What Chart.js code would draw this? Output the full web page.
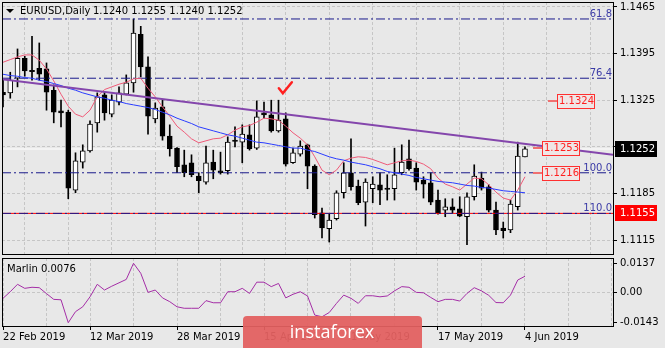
<!DOCTYPE html>
<html>
<head>
<meta charset="utf-8">
<script src="https://cdn.jsdelivr.net/npm/chart.js@4.4.1/dist/chart.umd.min.js"></script>
<style>
  html, body { margin: 0; padding: 0; background: #e8e8e8; }
  body { width: 665px; height: 348px; position: relative; overflow: hidden; }
  #main { position: absolute; left: 0; top: -12px; }
  #osc { position: absolute; left: 0; top: 246px; }
</style>
</head>
<body>
<canvas id="main" width="665" height="280"></canvas>
<canvas id="osc" width="665" height="102"></canvas>
<script>
// EURUSD daily, 22 Feb 2019 - 4 Jun 2019
const dateLabels = ['22 Feb 2019', '12 Mar 2019', '28 Mar 2019', '15 Apr 2019', '1 May 2019', '17 May 2019', '4 Jun 2019'];

const opens = [
  1.1337, 1.1336, 1.1358, 1.1388, 1.1370, 1.1373, 1.1372, 1.1340, 1.1309, 1.1307,
  1.1190, 1.1232, 1.1249, 1.1291, 1.1333, 1.1304, 1.1322, 1.1334, 1.1351, 1.1424,
  1.1375, 1.1297, 1.1315, 1.1271, 1.1253, 1.1228, 1.1231, 1.1211, 1.1202, 1.1232,
  1.1219, 1.1219, 1.1265, 1.1262, 1.1273, 1.1253, 1.1306, 1.1303, 1.1279, 1.1297,
  1.1231, 1.1244, 1.1258, 1.1226, 1.1156, 1.1132, 1.1147, 1.1186, 1.1216, 1.1196,
  1.1172, 1.1192, 1.1198, 1.1193, 1.1192, 1.1216, 1.1237, 1.1223, 1.1205, 1.1201,
  1.1175, 1.1160, 1.1165, 1.1162, 1.1150, 1.1180, 1.1208, 1.1195, 1.1160, 1.1133,
  1.1130, 1.1165, 1.1240
];
const highs = [
  1.1355, 1.1367, 1.1402, 1.1391, 1.1421, 1.1411, 1.1381, 1.1348, 1.1325, 1.1310,
  1.1246, 1.1258, 1.1294, 1.1336, 1.1337, 1.1333, 1.1345, 1.1363, 1.1447, 1.1436,
  1.1390, 1.1321, 1.1325, 1.1288, 1.1254, 1.1250, 1.1243, 1.1216, 1.1256, 1.1250,
  1.1247, 1.1270, 1.1285, 1.1288, 1.1288, 1.1324, 1.1322, 1.1325, 1.1325, 1.1306,
  1.1253, 1.1264, 1.1259, 1.1228, 1.1163, 1.1154, 1.1189, 1.1231, 1.1267, 1.1205,
  1.1207, 1.1210, 1.1216, 1.1213, 1.1253, 1.1258, 1.1265, 1.1231, 1.1210, 1.1216,
  1.1190, 1.1177, 1.1177, 1.1180, 1.1186, 1.1228, 1.1217, 1.1198, 1.1172, 1.1142,
  1.1175, 1.1262, 1.1255
];
const lows = [
  1.1315, 1.1328, 1.1345, 1.1361, 1.1355, 1.1355, 1.1310, 1.1291, 1.1285, 1.1177,
  1.1186, 1.1223, 1.1247, 1.1277, 1.1295, 1.1300, 1.1318, 1.1333, 1.1337, 1.1360,
  1.1274, 1.1291, 1.1265, 1.1241, 1.1216, 1.1210, 1.1210, 1.1186, 1.1199, 1.1207,
  1.1214, 1.1214, 1.1255, 1.1231, 1.1250, 1.1251, 1.1298, 1.1277, 1.1277, 1.1226,
  1.1230, 1.1241, 1.1192, 1.1148, 1.1118, 1.1112, 1.1145, 1.1178, 1.1190, 1.1168,
  1.1136, 1.1171, 1.1168, 1.1175, 1.1175, 1.1213, 1.1220, 1.1190, 1.1178, 1.1168,
  1.1154, 1.1150, 1.1156, 1.1150, 1.1108, 1.1175, 1.1190, 1.1157, 1.1123, 1.1118,
  1.1126, 1.1160, 1.1240
];
const closes = [
  1.1333, 1.1355, 1.1388, 1.1369, 1.1368, 1.1364, 1.1337, 1.1307, 1.1306, 1.1193,
  1.1234, 1.1249, 1.1289, 1.1330, 1.1306, 1.1325, 1.1336, 1.1351, 1.1426, 1.1375,
  1.1301, 1.1313, 1.1271, 1.1252, 1.1225, 1.1216, 1.1213, 1.1204, 1.1231, 1.1220,
  1.1216, 1.1262, 1.1263, 1.1274, 1.1252, 1.1300, 1.1303, 1.1279, 1.1295, 1.1229,
  1.1246, 1.1256, 1.1226, 1.1153, 1.1133, 1.1145, 1.1186, 1.1216, 1.1195, 1.1171,
  1.1202, 1.1199, 1.1190, 1.1191, 1.1213, 1.1232, 1.1222, 1.1202, 1.1199, 1.1172,
  1.1156, 1.1165, 1.1160, 1.1151, 1.1180, 1.1211, 1.1193, 1.1160, 1.1130, 1.1129,
  1.1169, 1.1241, 1.1252
];

// fast (red) and slow (blue) moving averages
const maFast = [
  1.1382, 1.1386, 1.1390, 1.1393, 1.1393, 1.1385, 1.1372, 1.1354, 1.1334, 1.1316,
  1.1304, 1.1300, 1.1310, 1.1330, 1.1341, 1.1345, 1.1349, 1.1352, 1.1357, 1.1358,
  1.1343, 1.1330, 1.1315, 1.1301, 1.1286, 1.1277, 1.1267, 1.1261, 1.1264, 1.1267,
  1.1268, 1.1273, 1.1280, 1.1285, 1.1287, 1.1292, 1.1298, 1.1297, 1.1295, 1.1286,
  1.1276, 1.1268, 1.1258, 1.1240, 1.1220, 1.1213, 1.1220, 1.1234, 1.1238, 1.1240,
  1.1239, 1.1236, 1.1232, 1.1228, 1.1231, 1.1234, 1.1235, 1.1233, 1.1229, 1.1222,
  1.1208, 1.1199, 1.1195, 1.1190, 1.1199, 1.1208, 1.1207, 1.1198, 1.1187, 1.1178,
  1.1175, 1.1190, 1.1210
];
const maSlow = [
  1.1364, 1.1362, 1.1361, 1.1359, 1.1358, 1.1355, 1.1353, 1.1350, 1.1347, 1.1343,
  1.1340, 1.1336, 1.1333, 1.1330, 1.1328, 1.1325, 1.1323, 1.1320, 1.1318, 1.1316,
  1.1314, 1.1311, 1.1307, 1.1303, 1.1298, 1.1294, 1.1290, 1.1285, 1.1282, 1.1279,
  1.1276, 1.1273, 1.1271, 1.1268, 1.1265, 1.1262, 1.1261, 1.1259, 1.1257, 1.1255,
  1.1253, 1.1253, 1.1250, 1.1248, 1.1244, 1.1240, 1.1237, 1.1235, 1.1232, 1.1230,
  1.1228, 1.1225, 1.1222, 1.1218, 1.1216, 1.1214, 1.1212, 1.1209, 1.1207, 1.1205,
  1.1203, 1.1202, 1.1201, 1.1199, 1.1197, 1.1196, 1.1194, 1.1193, 1.1191, 1.1189,
  1.1188, 1.1187, 1.1186
];

// Marlin oscillator
const marlin = [
  -0.0028, 0.0003, 0.0038, 0.0019, 0.0024, 0.0022, -0.0006, -0.0033, -0.0035, -0.0143,
  -0.0091, -0.0068, -0.0021, 0.0038, 0.0011, 0.0029, 0.0045, 0.0061, 0.0137, 0.0090,
  0.0000, 0.0011, -0.0026, -0.0044, -0.0068, -0.0075, -0.0075, -0.0075, -0.0039, -0.0049,
  -0.0049, 0.0003, 0.0003, 0.0019, -0.0005, 0.0048, 0.0048, 0.0027, 0.0042, -0.0026,
  -0.0009, 0.0003, -0.0017, -0.0107, -0.0115, -0.0095, -0.0052, -0.0013, -0.0028, -0.0052,
  -0.0016, -0.0016, -0.0021, -0.0017, 0.0007, 0.0027, 0.0024, 0.0000, -0.0002, -0.0024,
  -0.0044, -0.0033, -0.0033, -0.0041, -0.0005, 0.0022, 0.0007, -0.0014, -0.0048, -0.0049,
  -0.0013, 0.0058, 0.0076
];

const priceTicks = [1.1115, 1.1185, 1.1255, 1.1325, 1.1395, 1.1465];
const marlinTicks = [-0.0143, 0, 0.0137];

// Fibonacci levels, support line, target labels, trend line
const fibLevels = ['61.8', '76.4', '100.0', '110.0'];
const fibPrices = [1.1447, 1.1358, 1.1216, 1.1155];
const supportPrice = 1.1155;
const targetPrices = [1.1324, 1.1253, 1.1216];
const targetBars = [76.4, 74.3, 74.3];
const trendBars = [-0.41, 84.14];
const trendPrices = [1.1357, 1.1243];
const checkMark = { bar: 38.6, price: 1.1340 };

const N = closes.length;
const xMin = -0.14, xMax = 84.14;
const gridBars = [];
for (let i = 0; i <= 84; i += 6) gridBars.push(i);

const FONT = 'DejaVu Sans';
const GRID = '#c6c6c6';

function hLine(price, color, dash, width, order) {
  return {
    type: 'line',
    data: [{ x: xMin, y: price }, { x: xMax, y: price }],
    borderColor: color, borderWidth: width || 1, borderDash: dash || [],
    pointRadius: 0, order: order
  };
}

const series = arr => arr.map((v, i) => ({ x: i, y: v }));

const mainDatasets = [
  {
    type: 'bar', label: 'wick',
    data: highs.map((h, i) => ({ x: i, y: [lows[i], h] })),
    backgroundColor: '#000', barThickness: 1, grouped: false, order: 5
  },
  {
    type: 'bar', label: 'body',
    data: opens.map((o, i) => ({ x: i, y: [o, closes[i]] })),
    backgroundColor: closes.map((c, i) => c >= opens[i] ? '#ffffff' : '#000000'),
    borderColor: '#000', borderWidth: 1, borderSkipped: false,
    barThickness: 5, minBarLength: 1, grouped: false, order: 4
  },
  hLine(supportPrice, '#ff0000', [], 1, 3),
  ...fibPrices.map(p => hLine(p, '#1a1a8c', [9, 3, 2, 3], 1, 2)),
  {
    type: 'line', data: series(maSlow), borderColor: '#2a3cff', borderWidth: 1,
    pointRadius: 0, order: 1
  },
  {
    type: 'line', data: series(maFast), borderColor: '#ef5a78', borderWidth: 1,
    pointRadius: 0, order: 1
  },
  {
    type: 'line',
    data: trendBars.map((b, i) => ({ x: b, y: trendPrices[i] })),
    borderColor: '#8446ac', borderWidth: 2, pointRadius: 0, order: 0
  }
];

function drawFrame(ctx, a) {
  ctx.save();
  ctx.strokeStyle = '#000';
  ctx.lineWidth = 1;
  ctx.strokeRect(a.left + 0.5, a.top + 0.5, a.right - a.left, a.bottom - a.top);
  ctx.restore();
}

function axisBox(ctx, a, y, price, fill) {
  const py = Math.round(y.getPixelForValue(price));
  ctx.fillStyle = fill;
  ctx.fillRect(a.right + 2, py - 8, 42, 16);
  ctx.fillStyle = '#fff';
  ctx.textAlign = 'left';
  ctx.textBaseline = 'middle';
  ctx.fillText(price.toFixed(4), a.right + 7, py + 0.5);
}

const mainDecor = {
  id: 'mainDecor',
  beforeDatasetsDraw(chart) {
    // bid line at the last close
    const { ctx, chartArea: a, scales: { y } } = chart;
    const py = Math.round(y.getPixelForValue(closes[N - 1]));
    ctx.save();
    ctx.fillStyle = '#f3f3f3';
    ctx.fillRect(a.left, py - 1, a.right - a.left, 2);
    ctx.restore();
  },
  afterDatasetsDraw(chart) {
    const { ctx, chartArea: a, scales: { x, y } } = chart;
    ctx.save();
    ctx.font = '10px "' + FONT + '"';

    // fibo level captions
    ctx.fillStyle = '#3a3aa6';
    ctx.textAlign = 'right';
    ctx.textBaseline = 'alphabetic';
    fibPrices.forEach((p, i) => {
      ctx.fillText(fibLevels[i], a.right - 1, y.getPixelForValue(p) - 2);
    });

    // boxed target prices
    targetPrices.forEach((p, i) => {
      const py = Math.round(y.getPixelForValue(p));
      const bx = Math.round(x.getPixelForValue(targetBars[i]));
      ctx.strokeStyle = '#f07070';
      ctx.lineWidth = 2;
      ctx.beginPath();
      ctx.moveTo(bx - 9, py);
      ctx.lineTo(bx, py);
      ctx.stroke();
      ctx.fillStyle = '#efe6e6';
      ctx.fillRect(bx, py - 7, 37, 14);
      ctx.strokeStyle = '#ff3030';
      ctx.lineWidth = 1;
      ctx.strokeRect(bx + 0.5, py - 6.5, 37, 14);
      ctx.fillStyle = '#ff1f1f';
      ctx.textAlign = 'left';
      ctx.textBaseline = 'middle';
      ctx.fillText(p.toFixed(4), bx + 2, py + 0.5);
    });

    // check mark
    const cx = x.getPixelForValue(checkMark.bar);
    const cy = y.getPixelForValue(checkMark.price);
    ctx.strokeStyle = '#ff2020';
    ctx.lineWidth = 2.5;
    ctx.lineCap = 'round';
    ctx.beginPath();
    ctx.moveTo(cx - 4, cy - 2);
    ctx.lineTo(cx, cy + 3);
    ctx.lineTo(cx + 9, cy - 8);
    ctx.stroke();
    ctx.restore();

    drawFrame(ctx, a);
  },
  afterDraw(chart) {
    const { ctx, chartArea: a, scales: { y } } = chart;
    ctx.save();
    ctx.font = '10px "' + FONT + '"';
    axisBox(ctx, a, y, closes[N - 1], '#000');
    axisBox(ctx, a, y, supportPrice, '#ff0000');

    // symbol header
    ctx.fillStyle = '#000';
    ctx.beginPath();
    ctx.moveTo(a.left + 4, a.top + 7);
    ctx.lineTo(a.left + 12, a.top + 7);
    ctx.lineTo(a.left + 8, a.top + 11);
    ctx.closePath();
    ctx.fill();
    ctx.textAlign = 'left';
    ctx.textBaseline = 'middle';
    ctx.fillText('EURUSD,Daily', a.left + 18, a.top + 9);
    const last = N - 1;
    ctx.fillText([opens[last], highs[last], lows[last], closes[last]].map(v => v.toFixed(4)).join(' '), a.left + 91, a.top + 9);
    ctx.restore();
  }
};

new Chart(document.getElementById('main'), {
  type: 'line',
  data: { datasets: mainDatasets },
  options: {
    responsive: false,
    animation: false,
    events: [],
    layout: { padding: { top: 14, bottom: 14, left: 2, right: 0 } },
    plugins: { legend: { display: false }, tooltip: { enabled: false } },
    scales: {
      x: {
        type: 'linear', min: xMin, max: xMax, offset: false,
        afterBuildTicks: s => { s.ticks = gridBars.map(v => ({ value: v })); },
        afterFit: s => { s.height = 0; },
        ticks: { display: false },
        grid: { color: GRID, drawTicks: false },
        border: { display: false, dash: [3, 2] }
      },
      y: {
        position: 'right', min: 1.10940, max: 1.14725,
        afterBuildTicks: s => { s.ticks = priceTicks.map(v => ({ value: v })); },
        afterFit: s => { s.width = 52; },
        ticks: {
          color: '#000', padding: 3, font: { family: FONT, size: 10 },
          callback: v => v.toFixed(4)
        },
        grid: { color: GRID, tickColor: '#000', tickLength: 4 },
        border: { display: false, dash: [3, 2] }
      }
    }
  },
  plugins: [mainDecor]
});

const oscDecor = {
  id: 'oscDecor',
  afterDatasetsDraw(chart) {
    const { ctx, chartArea: a } = chart;
    drawFrame(ctx, a);
    ctx.save();
    ctx.font = '10px "' + FONT + '"';
    ctx.fillStyle = '#000';
    ctx.textAlign = 'left';
    ctx.textBaseline = 'middle';
    ctx.fillText('Marlin ' + marlin[N - 1].toFixed(4), a.left + 5, a.top + 11);
    ctx.restore();
  },
  afterDraw(chart) {
    // instaforex badge
    const { ctx } = chart;
    ctx.save();
    ctx.fillStyle = 'rgba(226, 96, 96, 0.94)';
    ctx.beginPath();
    ctx.roundRect(243, 70, 179, 40, 4);
    ctx.fill();
    ctx.fillStyle = '#fff';
    ctx.font = '18px "Open Sans"';
    ctx.textAlign = 'center';
    ctx.textBaseline = 'alphabetic';
    ctx.fillText('instaforex', 332, 92);
    ctx.restore();
  }
};

new Chart(document.getElementById('osc'), {
  type: 'line',
  data: {
    datasets: [{
      data: series(marlin), borderColor: '#a42ea6', borderWidth: 1, pointRadius: 0
    }]
  },
  options: {
    responsive: false,
    animation: false,
    events: [],
    layout: { padding: { top: 12, bottom: 0, left: 2, right: 0 } },
    plugins: { legend: { display: false }, tooltip: { enabled: false } },
    scales: {
      x: {
        type: 'linear', min: xMin, max: xMax, offset: false,
        afterBuildTicks: s => { s.ticks = gridBars.map(v => ({ value: v })); },
        afterFit: s => { s.height = 22; },
        ticks: {
          color: '#000', align: 'start', padding: 1, autoSkip: false, maxRotation: 0,
          font: { family: FONT, size: 10 },
          callback: v => (v % 12 === 0 && dateLabels[v / 12]) ? dateLabels[v / 12] : ''
        },
        grid: {
          color: GRID, tickLength: 4,
          tickColor: c => (c.tick && c.tick.value % 12 === 0 && c.tick.value <= 72) ? '#000' : 'rgba(0,0,0,0)'
        },
        border: { display: false, dash: [3, 2] }
      },
      y: {
        position: 'right', min: -0.01586, max: 0.0162,
        afterBuildTicks: s => { s.ticks = marlinTicks.map(v => ({ value: v })); },
        afterFit: s => { s.width = 52; },
        ticks: {
          color: '#000', padding: 3, font: { family: FONT, size: 10 },
          callback: v => v === 0 ? '0.00' : v.toFixed(4)
        },
        grid: {
          color: c => (c.tick && c.tick.value === 0) ? GRID : 'rgba(0,0,0,0)',
          tickColor: '#000', tickLength: 4
        },
        border: { display: false, dash: [3, 2] }
      }
    }
  },
  plugins: [oscDecor]
});
</script>
</body>
</html>
